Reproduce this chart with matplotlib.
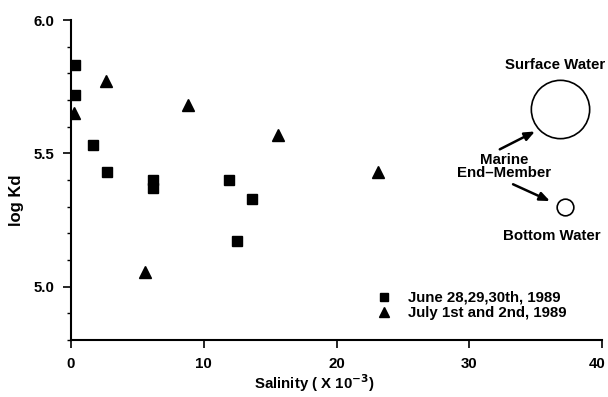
import matplotlib
matplotlib.use("Agg")
import matplotlib.pyplot as plt
from matplotlib.ticker import MultipleLocator
from matplotlib.transforms import ScaledTranslation

plt.rcParams['font.family'] = ['Liberation Sans', 'DejaVu Sans']
plt.rcParams['font.weight'] = 'bold'

# June 28,29,30th, 1989 (squares)
june_sal = [0.3, 0.3, 1.65, 2.7, 6.2, 6.2, 11.9, 13.6, 12.5]
june_logkd = [5.83, 5.72, 5.53, 5.43, 5.40, 5.37, 5.40, 5.33, 5.17]

# July 1st and 2nd, 1989 (triangles)
july_sal = [0.2, 2.6, 8.8, 15.6, 23.1, 5.6]
july_logkd = [5.65, 5.77, 5.68, 5.57, 5.43, 5.055]

# Marine end-member (open circles)
marine_sal = [36.8, 37.2]
marine_logkd = [5.665, 5.30]
marine_size = [42, 12]
marine_labels = ["Surface Water", "Bottom Water"]

xticks = [0, 10, 20, 30, 40]
yticks = [5.0, 5.5, 6.0]

FS = 10.8

fig = plt.figure(figsize=(6.08, 3.97), dpi=100)
ax = fig.add_axes([71/608, 1-340/397, 531/608, 320/397])

ax.plot(june_sal, june_logkd, 's', color='black', markersize=6.5, linestyle='none',
        label="June 28,29,30th, 1989")
ax.plot(july_sal, july_logkd, '^', color='black', markersize=8.5, linestyle='none',
        label="July 1st and 2nd, 1989")
for xs, ys, sz in zip(marine_sal, marine_logkd, marine_size):
    ax.plot([xs], [ys], 'o', markerfacecolor='none', markeredgecolor='black',
            markersize=sz, markeredgewidth=1.2)

ax.set_xlim(0, 40)
ax.set_ylim(4.8, 6.0)
ax.set_xticks(xticks)
ax.set_xticklabels([str(t) for t in xticks])
ax.set_yticks(yticks)
ax.set_yticklabels([f"{t:.1f}" for t in yticks])
ax.yaxis.set_minor_locator(MultipleLocator(0.1))
ax.tick_params(axis='both', which='major', direction='out', length=6, width=1.2,
               labelsize=FS, pad=6)
ax.tick_params(axis='y', which='minor', direction='out', length=3, width=1)
for s in ['top', 'right']:
    ax.spines[s].set_visible(False)
for s in ['left', 'bottom']:
    ax.spines[s].set_linewidth(1.5)

# nudge the last x tick label so it stays inside the figure
last = ax.get_xticklabels()[-1]
last.set_transform(last.get_transform() + ScaledTranslation(-5/100, 0, fig.dpi_scale_trans))

ax.set_xlabel("Salinity ( X 10$^{-3}$)", fontsize=FS, fontweight='bold')
ax.xaxis.label.set_va('center')
ax.xaxis.set_label_coords((314-71)/531, -(383-340)/320)
ax.set_ylabel("log Kd", fontsize=12, fontweight='bold')
ax.yaxis.label.set_va('center')
ax.yaxis.set_label_coords(-(71-16)/531, (340-200)/320)

ax.text(36.5, 5.832, marine_labels[0], ha='center', va='center', fontsize=FS, fontweight='bold')
ax.text(36.2, 5.19, marine_labels[1], ha='center', va='center', fontsize=FS, fontweight='bold')
ax.text(32.6, 5.45, "Marine\nEnd\u2013Member", ha='center', va='center', fontsize=FS,
        fontweight='bold', linespacing=0.95)

arrowprops = dict(arrowstyle='-|>,head_length=0.6,head_width=0.25', color='black', lw=1.8,
                  shrinkA=0, shrinkB=0)
ax.annotate("", xy=(34.95, 5.582), xytext=(32.3, 5.515), arrowprops=arrowprops)
ax.annotate("", xy=(36.08, 5.321), xytext=(33.3, 5.384), arrowprops=arrowprops)

ax.legend(loc='upper left', bbox_to_anchor=((376-71)/531, (340-291)/320), frameon=False,
          fontsize=FS, handlelength=1.0, handletextpad=1.1, borderaxespad=0,
          borderpad=0, labelspacing=0.05, markerscale=0.85)

fig.savefig("out.png", dpi=100)
